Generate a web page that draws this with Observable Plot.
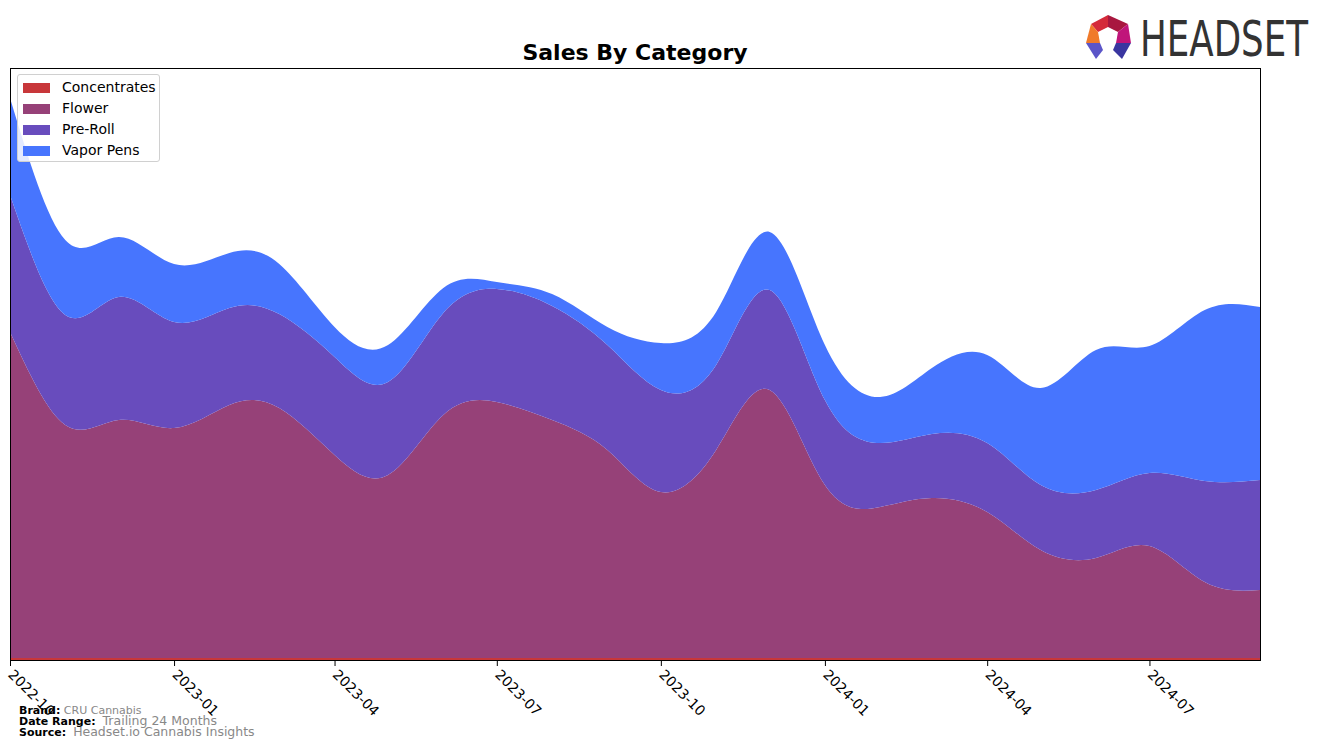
<!DOCTYPE html>
<html>
<head>
<meta charset="utf-8">
<script src="https://cdn.jsdelivr.net/npm/d3@7"></script>
<script src="https://cdn.jsdelivr.net/npm/@observablehq/plot@0.6"></script>
<style>
  html, body { margin: 0; padding: 0; background: #fff; }
  body { width: 1324px; height: 748px; position: relative; overflow: hidden; font-family: "DejaVu Sans", sans-serif; }
  #chart { position: absolute; left: 0; top: 0; }
  #title { position: absolute; left: 0; width: 1270px; top: 40px; text-align: center; font-weight: bold; font-size: 22px; color: #000; }
  #legend { position: absolute; left: 17px; top: 74px; width: 141px; height: 86px; border: 1px solid #d0d0d0; border-radius: 3px; background: rgba(255,255,255,0.85); }
  .item { position: absolute; left: 5px; height: 21px; font-size: 14px; line-height: 21px; color: #000; }
  .sw { position: absolute; left: 0; top: 6px; width: 27px; height: 10px; }
  .lab { position: absolute; left: 39px; white-space: nowrap; }
  #footer { position: absolute; left: 19px; top: 706px; font-size: 11px; line-height: 10px; }
  #footer b { color: #000; }
  #footer span { color: #888; }
  #logo { position: absolute; left: 1080px; top: 0px; }
</style>
</head>
<body>
<div id="chart"></div>
<div id="title">Sales By Category</div>
<div id="legend"></div>
<svg id="logo" width="244" height="70" viewBox="1080 0 244 70">
  <polygon points="1091,24 1108,15 1108,27 1098,32" fill="#d42a3a"/>
  <polygon points="1108,15 1128,24 1118,32 1108,27" fill="#a8173f"/>
  <polygon points="1091,24 1098,32 1100,43 1086,43" fill="#f07a2a"/>
  <polygon points="1128,24 1131,43 1116,43 1118,32" fill="#c0157a"/>
  <polygon points="1086,43 1100,43 1103,50 1096,59" fill="#5b55c8"/>
  <polygon points="1131,43 1116,43 1113,50 1122,59" fill="#3a36a0"/>
  <text x="1140" y="56" font-family="'DejaVu Sans Condensed','DejaVu Sans',sans-serif" font-size="50" fill="#333" textLength="168" lengthAdjust="spacingAndGlyphs">HEADSET</text>
</svg>
<div id="footer">
  <div><b>Brand:</b> <span style="font-size:11px">CRU Cannabis</span></div>
  <div><b>Date Range:</b> &nbsp;<span style="font-size:12.5px">Trailing 24 Months</span></div>
  <div><b>Source:</b> &nbsp;<span style="font-size:12.5px">Headset.io Cannabis Insights</span></div>
</div>
<script>
const months = ["2022-10","2022-11","2022-12","2023-01","2023-02","2023-03","2023-04","2023-05","2023-06","2023-07","2023-08","2023-09","2023-10","2023-11","2023-12","2024-01","2024-02","2024-03","2024-04","2024-05","2024-06","2024-07","2024-08","2024-09"];
const categories = ["Concentrates","Flower","Pre-Roll","Vapor Pens"];
const colors = ["#c8373a","#964178","#684cbd","#4775fe"];
const concentrates = [2,2,2,2,2,2,2,2,2,2,2,2,2,2,2,2,2,2,2,2,2,2,2,2];
const flower = [326,233,238,230,253,250,203,183,243,256,238,208,166,208,268,173,151,160,146,108,100,112,76,68];
const preRoll = [137,110,123,106,97,94,98,93,102,113,114,105,102,85,100,85,64,64,69,65,68,73,101,110];
const vaporPens = [97,75,60,58,55,50,30,37,25,7,12,18,47,53,58,55,46,66,88,97,140,127,171,173];
const tickMonths = ["2022-10","2023-01","2023-04","2023-07","2023-10","2024-01","2024-04","2024-07"];

const series = [concentrates, flower, preRoll, vaporPens];
const parse = d3.utcParse("%Y-%m");
const rows = [];
categories.forEach((c, i) => months.forEach((m, j) => rows.push({date: parse(m), category: c, value: series[i][j]})));

const chart = Plot.plot({
  width: 1324,
  height: 748,
  marginLeft: 10,
  marginRight: 64,
  marginTop: 68,
  marginBottom: 88,
  style: {fontFamily: "DejaVu Sans, sans-serif", fontSize: "14px", background: "white", overflow: "visible"},
  x: {type: "utc", domain: [parse(months[0]), parse(months[months.length - 1])], ticks: tickMonths.map(parse), tickFormat: d3.utcFormat("%Y-%m"), label: null, tickRotate: 45, tickSize: 6},
  y: {domain: [0, 592], axis: null},
  color: {domain: categories, range: colors},
  marks: [
    Plot.areaY(rows, {x: "date", y: "value", fill: "category", z: "category", curve: "natural", fillOpacity: 1}),
    Plot.frame({stroke: "black", strokeWidth: 1})
  ]
});
document.getElementById("chart").appendChild(chart);

const legend = document.getElementById("legend");
categories.forEach((c, i) => {
  const it = document.createElement("div");
  it.className = "item";
  it.style.top = (2 + i * 21) + "px";
  it.innerHTML = `<div class="sw" style="background:${colors[i]}"></div><div class="lab">${c}</div>`;
  legend.appendChild(it);
});
</script>
</body>
</html>
